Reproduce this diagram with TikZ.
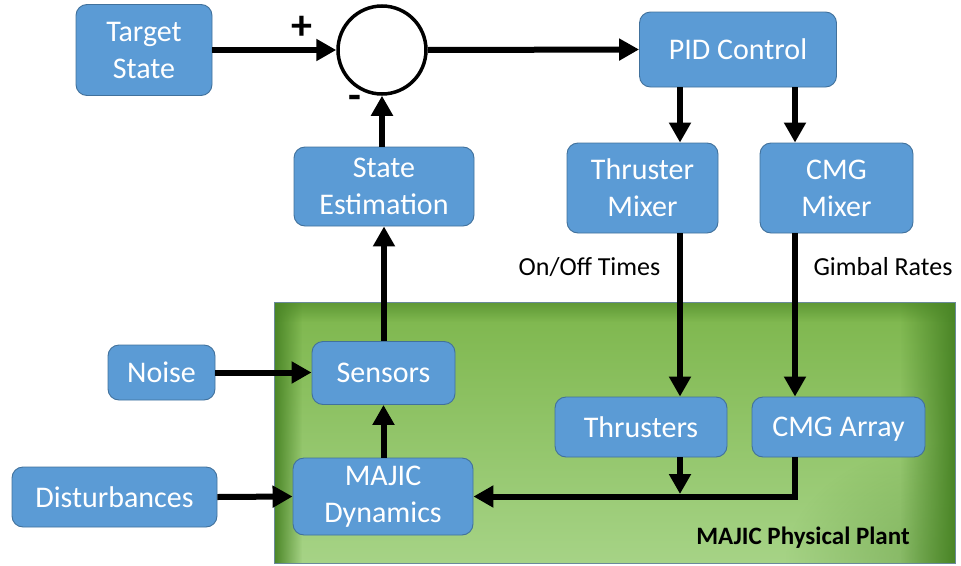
\documentclass[tikz,border=0pt]{standalone}
\usepackage{fontspec}
\setmainfont{Carlito}
\usetikzlibrary{arrows.meta,calc,fadings}

\definecolor{boxfill}{HTML}{5B9BD5}
\definecolor{boxline}{HTML}{41719C}
\definecolor{gEdge}{HTML}{4A8526}
\definecolor{gTop}{HTML}{7DB64C}
\definecolor{gBottom}{HTML}{A6D386}
\definecolor{plantline}{HTML}{6A8A9A}

% soft darkening towards the borders of the plant region
\tikzfading[name=edgeleft,  left color=transparent!0,  right color=transparent!100]
\tikzfading[name=edgeright, left color=transparent!100, right color=transparent!0]
\tikzfading[name=edgetop,   top color=transparent!40,  bottom color=transparent!100]
\tikzfading[name=cornerbr,  inner color=transparent!55, outer color=transparent!100]

\tikzset{
  block/.style={draw=boxline, line width=0.9pt, fill=boxfill, rounded corners=11pt,
    text=white, align=center, inner sep=0pt,
    font=\fontsize{30}{37}\selectfont},
  arr/.style={line width=6pt, -{Triangle[length=20pt,width=21pt]}},
  lbl/.style={font=\fontsize{26}{30}\selectfont, text=black},
  sign/.style={font=\bfseries\fontsize{42}{42}\selectfont, text=black},
}

\begin{document}
\begin{tikzpicture}[x=1pt,y=-1pt]
\useasboundingbox (0,0) rectangle (961,565);

% plant region
\fill[top color=gTop, bottom color=gBottom] (274,302) rectangle (955,563);
\begin{scope}
  \clip (274,302) rectangle (955,563);
  \fill[gEdge, path fading=cornerbr] (955,563) ellipse (170pt and 120pt);
\end{scope}
\fill[gEdge, path fading=edgeleft]  (274,302) rectangle (302,563);
\fill[gEdge, path fading=edgeright] (900,302) rectangle (955,563);
\fill[gEdge, path fading=edgetop]   (274,302) rectangle (955,322);
\draw[plantline, line width=0.9pt] (274,302) rectangle (955,563);
\node[font=\bfseries\fontsize{25}{30}\selectfont, text=black] (plantlbl) at (803,538) {MAJIC Physical Plant};

% blocks
\node[block, minimum width=136pt, minimum height=91pt] (tgt)  at (144,50)    {Target\\State};
\node[draw, circle, line width=3.5pt, fill=white, minimum size=88pt, inner sep=0pt] (sum) at (382,50) {};
\node[block, minimum width=180pt, minimum height=79pt] (est)  at (384,186.5) {State\\Estimation};
\node[block, minimum width=197pt, minimum height=75pt] (pid)  at (738,49.5)  {PID Control};
\node[block, minimum width=151pt, minimum height=90pt] (tmix) at (642.5,188) {Thruster\\Mixer};
\node[block, minimum width=153pt, minimum height=90pt] (cmix) at (836.5,188) {CMG\\Mixer};
\node[block, minimum width=107pt, minimum height=55pt] (noise) at (161.5,372.5) {Noise};
\node[block, minimum width=143pt, minimum height=63pt] (sens) at (383.5,373) {Sensors};
\node[block, minimum width=205pt, minimum height=60pt] (dist) at (114.5,497) {Disturbances};
\node[block, minimum width=180pt, minimum height=77pt] (dyn)  at (383,496.5) {MAJIC\\Dynamics};
\node[block, minimum width=172pt, minimum height=60pt] (thr)  at (641,427)   {Thrusters};
\node[block, minimum width=173pt, minimum height=60pt, text depth=0pt] (cmga) at (838.5,427) {CMG Array};

% signs at the summing junction
\node[sign] (plus)  at (302,28)  {+};
\node[sign] (minus) at (355,102) {-};

% edge labels
\node[lbl] (onoff)  at (589.5,267) {On/Off Times};
\node[lbl] (gimbal) at (883,267)   {Gimbal Rates};

% signal columns and the merge point
\coordinate (thrx) at (680,0);
\coordinate (cmgx) at (795,0);
\coordinate (merge) at (680,497);

% connectors
\draw[arr] (tgt.east) -- (sum.west);
\draw[arr] (sum.east) -- (pid.west);
\draw[arr] (est.north -| sum.south) -- (sum.south);
\draw[arr] (pid.south -| thrx) -- (tmix.north -| thrx);
\draw[arr] (pid.south -| cmgx) -- (cmix.north -| cmgx);
\draw[arr] (tmix.south -| thrx) -- (thr.north -| thrx);
\draw[arr] (cmix.south -| cmgx) -- (cmga.north -| cmgx);
\draw[arr] (thr.south -| thrx) -- ($(merge)+(0,-3)$);
\draw[arr] (cmga.south -| cmgx) -- (cmgx |- dyn.east) -- (dyn.east);
\draw[arr] (noise.east) -- (noise.east -| sens.west);
\draw[arr] (dist.east) -- (dyn.west);
\draw[arr] (dyn.north -| sens.south) -- (sens.south);
\draw[arr] (sens.north -| est.south) -- (est.south);
\end{tikzpicture}
\end{document}
